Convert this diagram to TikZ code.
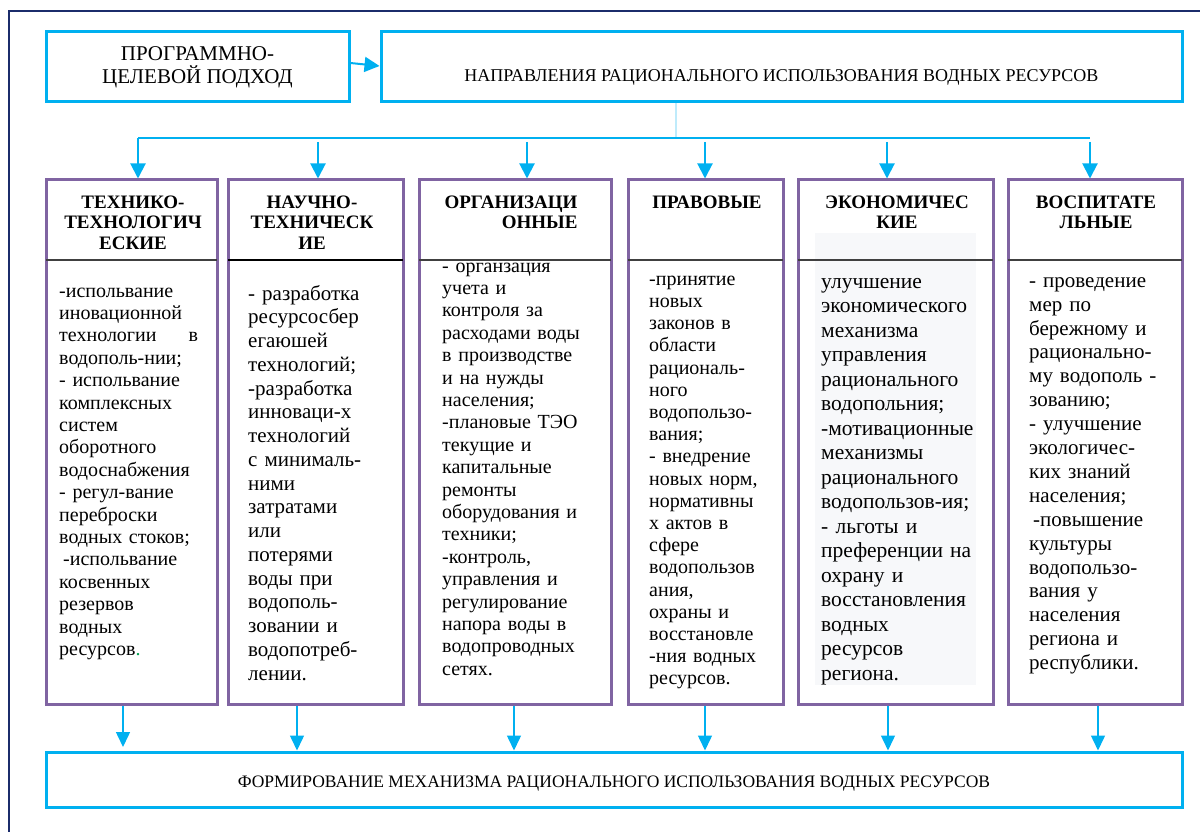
\documentclass[tikz,border=0pt]{standalone}
\usepackage{fontspec}
\setmainfont{Liberation Serif}
\usetikzlibrary{arrows.meta}
\definecolor{cy}{HTML}{00B0F0}
\definecolor{pu}{HTML}{8064A2}
\definecolor{nv}{HTML}{1B2C6B}
\definecolor{lg}{HTML}{F7F8FA}
\definecolor{gr}{HTML}{00A050}
\begin{document}
\begin{tikzpicture}[x=1pt,y=-1pt,
  cbox/.style={draw=cy, line width=3pt, inner sep=0pt},
  colbox/.style={draw=pu, line width=3pt, inner sep=0pt, minimum height=524pt},
  arr/.style={draw=cy, line width=2pt, -{Triangle[width=15pt,length=15pt]}},
  barr/.style={draw=cy, line width=1.5pt, -{Triangle[width=14pt,length=15pt]}},
  body/.style={anchor=north west, inner sep=0pt, align=left, text width=#1},
  hd/.style={anchor=north, inner sep=0pt, align=center, font=\fontsize{19}{20.5}\selectfont\bfseries},
  hline/.style={draw=black!75, line width=1.2pt},
  lbl/.style={inner sep=0pt, anchor=base},
]
\useasboundingbox (0,0) rectangle (1200,832);
% outer frame
\draw[nv, line width=2.5pt] (9,840) -- (9,11) -- (1210,11);

% top boxes
\node[cbox, minimum width=303pt, minimum height=70pt, align=center,
      font=\fontsize{21}{23}\selectfont] (prog) at (197.5,67) {ПРОГРАММНО-\\ЦЕЛЕВОЙ ПОДХОД};
\node[cbox, minimum width=801pt, minimum height=70pt] (dir) at (781.5,67) {};
\node[lbl, font=\fontsize{18}{20}\selectfont] (dirlbl) at (781.5,82) {НАПРАВЛЕНИЯ РАЦИОНАЛЬНОГО ИСПОЛЬЗОВАНИЯ ВОДНЫХ РЕСУРСОВ};
\draw[arr] ([yshift=4pt]prog.east) -- ([yshift=1pt]dir.west);

% columns
\fill[lg] (815,233) rectangle (976,685);
\node[colbox, minimum width=171pt] (col1) at (131.5,442) {};
\node[colbox, minimum width=175pt] (col2) at (315.5,442) {};
\node[colbox, minimum width=192pt] (col3) at (515,442) {};
\node[colbox, minimum width=155pt] (col4) at (705.5,442) {};
\node[colbox, minimum width=195pt] (col5) at (895.5,442) {};
\node[colbox, minimum width=174pt] (col6) at (1095,442) {};

% bodies
\node[body=200pt, font=\fontsize{20}{22.4}\selectfont] (b1) at (59,281.3) {\strut -испольвание\\
иновационной\\
\makebox[139pt][l]{технологии\hfill в}\\
водополь-нии;\\
- испольвание\\
комплексных\\
систем\\
оборотного\\
водоснабжения\\
- регул-вание\\
переброски\\
водных стоков;\\
\hspace*{4pt}-испольвание\\
косвенных\\
резервов\\
водных\\
ресурсов\textcolor{gr}{.}};

\node[body=200pt, font=\fontsize{21}{23.75}\selectfont] (b2) at (248,283.4) {\strut - разработка\\
ресурсосбер\\
егаюшей\\
технологий;\\
-разработка\\
инноваци-х\\
технологий\\
с минималь-\\
ними\\
затратами\\
или\\
потерями\\
воды при\\
водополь-\\
зовании и\\
водопотреб-\\
лении.};

\node[body=200pt, font=\fontsize{20}{22.4}\selectfont] (b3) at (442,256.3) {\strut - органзация\\
учета и\\
контроля за\\
расходами воды\\
в производстве\\
и на нужды\\
населения;\\
-плановые ТЭО\\
текущие и\\
капитальные\\
ремонты\\
оборудования и\\
техники;\\
-контроль,\\
управления и\\
регулирование\\
напора воды в\\
водопроводных\\
сетях.};

\node[body=200pt, font=\fontsize{20}{22.2}\selectfont] (b4) at (649,269.5) {\strut -принятие\\
новых\\
законов в\\
области\\
рациональ-\\
ного\\
водопользо-\\
вания;\\
- внедрение\\
новых норм,\\
нормативны\\
х актов в\\
сфере\\
водопользов\\
ания,\\
охраны и\\
восстановле\\
-ния водных\\
ресурсов.};

\node[body=200pt, font=\fontsize{21.5}{24.5}\selectfont] (b5) at (821,270.9) {\strut улучшение\\
экономического\\
механизма\\
управления\\
рационального\\
водопольния;\\
-мотивационные\\
механизмы\\
рационального\\
водопользов-ия;\\
- льготы и\\
преференции на\\
охрану и\\
восстановления\\
водных\\
ресурсов\\
региона.};

\node[body=200pt, font=\fontsize{21}{23.9}\selectfont] (b6) at (1029,270.3) {\strut - проведение\\
мер по\\
бережному и\\
рационально-\\
му водополь -\\
зованию;\\
- улучшение\\
экологичес-\\
ких знаний\\
населения;\\
\hspace*{4pt}-повышение\\
культуры\\
водопользо-\\
вания у\\
населения\\
региона и\\
республики.};

% header area of column 3 hides the top of its text
\fill[white] (421,182) rectangle (609,260);

% header separators
\draw[hline] (46,260) -- (217,260);
\draw[black, line width=2pt] (228,260) -- (403,260);
\draw[hline] (419,260) -- (611,260);
\draw[hline] (628,260) -- (783,260);
\draw[hline] (798,260) -- (993,260);
\draw[hline] (1008,260) -- (1182,260);

% headers
\node[hd] (h1) at (133,193.6) {\strut ТЕХНИКО-\\ТЕХНОЛОГИЧ\\ЕСКИЕ};
\node[hd] (h2) at (312,193.6) {\strut НАУЧНО-\\ТЕХНИЧЕСК\\ИЕ};
\node[hd, align=right] (h3) at (511,193.6) {\strut ОРГАНИЗАЦИ\\ОННЫЕ};
\node[hd] (h4) at (707,193.6) {\strut ПРАВОВЫЕ};
\node[hd] (h5) at (897,193.6) {\strut ЭКОНОМИЧЕС\\КИЕ};
\node[hd] (h6) at (1096,193.6) {\strut ВОСПИТАТЕ\\ЛЬНЫЕ};

% distribution lines
\coordinate (j) at (676,138);
\coordinate (a1) at (138,138);
\coordinate (a6e) at (1090,138);
\coordinate (a2) at (318,142);
\coordinate (a3) at (527,142);
\coordinate (a4) at (705,142);
\coordinate (a5) at (887,142);
\coordinate (a6) at (1090,142);
\draw[cy!25, line width=1.5pt] (dir.south -| j) -- (j);
\draw[cy, line width=2pt] (a1) -- (a6e);
\draw[arr] (a1) -- (a1 |- col1.north);
\draw[arr] (a2) -- (a2 |- col2.north);
\draw[arr] (a3) -- (a3 |- col3.north);
\draw[arr] (a4) -- (a4 |- col4.north);
\draw[arr] (a5) -- (a5 |- col5.north);
\draw[arr] (a6) -- (a6 |- col6.north);

% bottom box
\node[cbox, minimum width=1136pt, minimum height=55pt] (form) at (614,779.5) {};
\node[lbl, font=\fontsize{17.5}{20}\selectfont] (formlbl) at (614,787) {ФОРМИРОВАНИЕ МЕХАНИЗМА РАЦИОНАЛЬНОГО ИСПОЛЬЗОВАНИЯ ВОДНЫХ РЕСУРСОВ};

\coordinate (c1) at (123,747);
\coordinate (c2) at (297,752);
\coordinate (c3) at (514,752);
\coordinate (c4) at (705,752);
\coordinate (c5) at (888,752);
\coordinate (c6) at (1098,752);
\draw[barr] (c1 |- col1.south) -- (c1);
\draw[barr] (c2 |- col2.south) -- (c2 |- form.north);
\draw[barr] (c3 |- col3.south) -- (c3 |- form.north);
\draw[barr] (c4 |- col4.south) -- (c4 |- form.north);
\draw[barr] (c5 |- col5.south) -- (c5 |- form.north);
\draw[barr] (c6 |- col6.south) -- (c6 |- form.north);
\end{tikzpicture}
\end{document}
